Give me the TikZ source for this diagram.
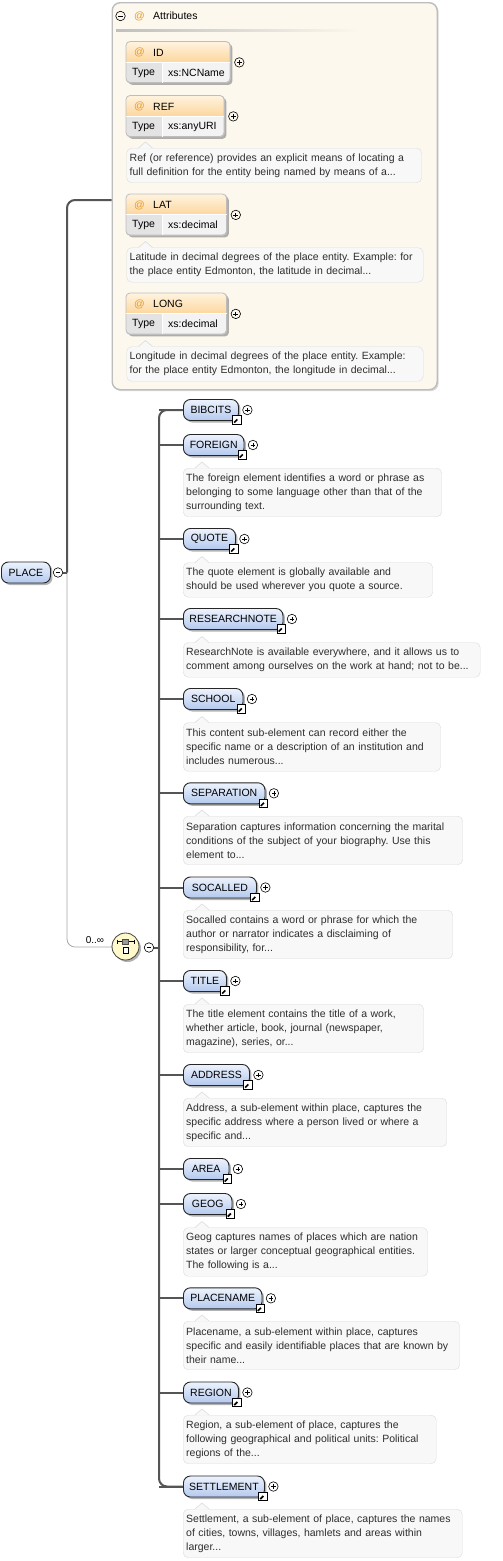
\documentclass[tikz,border=0pt]{standalone}
\usepackage{fontspec}
\setmainfont{Liberation Sans}
\frenchspacing
\usetikzlibrary{shadows,calc}
\definecolor{trunk}{HTML}{555555}
\definecolor{thinln}{HTML}{A8A8A8}
\definecolor{descfill}{HTML}{F8F8F8}
\definecolor{descline}{HTML}{DCDCDC}
\definecolor{desctext}{HTML}{2E2E2E}
\definecolor{elemtop}{HTML}{EDF3FD}
\definecolor{elembot}{HTML}{B4C9EE}
\definecolor{attrtop}{HTML}{FFF3DF}
\definecolor{attrbot}{HTML}{FCD79F}
\definecolor{atsign}{HTML}{E89A2A}
\definecolor{attrbg}{HTML}{FDF8EE}
\definecolor{attrborder}{HTML}{BDBDBD}
\definecolor{typecell}{HTML}{E3E3E3}
\definecolor{valcell}{HTML}{F3F3F3}
\definecolor{seqfill}{HTML}{FFF9CC}
\tikzset{
 x=1pt, y=-1pt,
 txt/.style={font=\fontsize{10.5}{14}\selectfont, inner sep=0pt},
 elem/.style={draw=black!85, line width=0.9pt, rounded corners=7pt, top color=elemtop, bottom color=elembot,
   minimum height=21pt, inner sep=0pt, anchor=west, font=\fontsize{10.5}{12}\selectfont,
   drop shadow={shadow xshift=2pt, shadow yshift=-2pt, fill=black, opacity=0.3}},
 desc/.style={draw=descline, fill=descfill, rounded corners=5pt, inner xsep=3pt, inner ysep=0pt,
   align=left, text=desctext, font=\fontsize{10.5}{14}\selectfont, anchor=north west},
 plus/.style={circle, draw=black, minimum size=9.5pt, inner sep=0pt, line width=0.6pt,
   path picture={\draw[line width=0.7pt] ([xshift=-2.4pt]path picture bounding box.center) -- ([xshift=2.4pt]path picture bounding box.center)
     ([yshift=-2.4pt]path picture bounding box.center) -- ([yshift=2.4pt]path picture bounding box.center);}},
 minus/.style={circle, draw=black, minimum size=9.5pt, inner sep=0pt, line width=0.6pt,
   path picture={\draw[line width=0.7pt] ([xshift=-2.4pt]path picture bounding box.center) -- ([xshift=2.4pt]path picture bounding box.center);}},
 arrowbox/.style={draw=black, fill=white, minimum size=8.5pt, inner sep=0pt, line width=0.7pt,
   path picture={\draw[line width=1.6pt] ([shift={(-2.6pt,-2.6pt)}]path picture bounding box.center) -- ([shift={(1pt,1pt)}]path picture bounding box.center);
     \fill ([shift={(3pt,3pt)}]path picture bounding box.center) -- ([shift={(-1.8pt,3pt)}]path picture bounding box.center) -- ([shift={(3pt,-1.8pt)}]path picture bounding box.center) -- cycle;}},
 trunkline/.style={draw=trunk, line width=2pt},
 thinline/.style={draw=thinln, line width=0.8pt},
 attrbox/.style={draw=attrborder, fill=white, rounded corners=4pt, minimum height=41pt, inner sep=0pt, line width=0.8pt,
   drop shadow={shadow xshift=2pt, shadow yshift=-2pt, fill=black, opacity=0.3}},
 atsym/.style={txt, text=atsign},
}
% element: name, center y, right x, label
\newcommand\XElem[4]{%
 \pgfmathsetmacro\xw{#3-183}%
 \node[elem, minimum width=\xw pt] (#1) at (183,#2) {#4};
 \node[arrowbox] (#1-ref) at ($(#1.south east)+(-2,-1)$) {};
 \node[plus] (#1-plus) at ($(#1.east)+(8.5,0)$) {};
 \draw[trunkline] (#1.west -| trunk) -- (#1.west);
}
% description: name, left x, top y, right x, height, text
\newcommand\XDesc[6]{%
 \pgfmathsetmacro\tw{#4-#2-6}%
 \node[desc, text width=\tw pt, minimum height=#5pt] (#1) at (#2,#3) {#6};
 \fill[descfill] ($(#1.north west)+(12,0.7)$) -- ($(#1.north west)+(19,-6)$) -- ($(#1.north west)+(26,0.7)$) -- cycle;
 \draw[descline, line width=0.6pt] ($(#1.north west)+(12,0)$) -- ($(#1.north west)+(19,-6)$) -- ($(#1.north west)+(26,0)$);
}
% attribute: name, top y, right x, label, type
\newcommand\XAttr[5]{%
 \pgfmathsetmacro\aw{#3-126}%
 \node[attrbox, minimum width=\aw pt, anchor=north west] (#1) at (126,#2) {};
 \begin{scope}
  \clip[rounded corners=4pt] (126,#2) rectangle (#3,#2+41);
  \shade[top color=attrtop, bottom color=attrbot] (126,#2) rectangle (#3,#2+20.5);
  \fill[typecell] (126,#2+20.5) rectangle (162,#2+41);
  \fill[valcell] (162,#2+20.5) rectangle (#3,#2+41);
 \end{scope}
 \draw[attrborder, line width=0.8pt, rounded corners=4pt] (126,#2) rectangle (#3,#2+41);
 \draw[white, line width=0.6pt] (126,#2+20.5) -- (#3,#2+20.5) (162,#2+20.5) -- (162,#2+41);
 \node[atsym] (#1-at) at (139.5,#2+11) {@};
 \node[txt, anchor=west] (#1-name) at (153,#2+11) {#4};
 \node[txt, anchor=west] (#1-tl) at (132,#2+31) {Type};
 \node[txt, anchor=west] (#1-tv) at (168,#2+31) {#5};
 \node[plus] (#1-plus) at ($(#1.east)+(8.5,0)$) {};
}
\begin{document}
\begin{tikzpicture}
\useasboundingbox (0,0) rectangle (503,1561);
\fill[white] (0,0) rectangle (503,1561);
\coordinate (trunk) at (159,0);
\coordinate (attrjoin) at (111.5,200);

% attributes container
\node[draw=attrborder, fill=attrbg, rounded corners=8pt, line width=1.4pt, minimum width=325pt, minimum height=387pt,
  inner sep=0pt, anchor=north west, drop shadow={shadow xshift=1.5pt, shadow yshift=-1.5pt, fill=black, opacity=0.15}] (attrs) at (111.5,2) {};
\node[minus] (attrs-minus) at (120.5,16) {};
\node[atsym] (attrs-at) at (139.5,16) {@};
\node[txt, anchor=west] (attrs-title) at (153,16) {Attributes};
\shade[left color=black!25, right color=attrbg] (116,29.5) rectangle (360,31);

\XAttr{id}{41.5}{230}{ID}{xs:NCName}
\XAttr{ref}{95.5}{224}{REF}{xs:anyURI}
\XDesc{refd}{126.5}{148}{421.5}{34.5}{Ref (or reference) provides an explicit means of locating a\\full definition for the entity being named by means of a...}
\XAttr{lat}{194}{226.5}{LAT}{xs:decimal}
\XDesc{latd}{126.5}{247.5}{423}{34.5}{Latitude in decimal degrees of the place entity. Example: for\\the place entity Edmonton, the latitude in decimal...}
\XAttr{long}{293}{226.5}{LONG}{xs:decimal}
\XDesc{longd}{126.5}{346.5}{423}{34.5}{Longitude in decimal degrees of the place entity. Example:\\for the place entity Edmonton, the longitude in decimal...}

% root
\node[elem, minimum width=49pt] (place) at (1,572.5) {PLACE};
\node[minus] (place-minus) at (58,572.5) {};
\coordinate (placejoin) at (67,572.5);
\draw[thinline, rounded corners=8pt] (placejoin) -- (67,947) -- (112,947);
\draw[trunkline] (place-minus.east) -- (placejoin);
\draw[trunkline, rounded corners=8pt] (placejoin) -- (67,200) -- (attrjoin);
\node[txt, font=\fontsize{10}{12}\selectfont] (card) at (95,940.5) {0..∞};

% sequence compositor
\node[circle, draw=black!75, line width=0.8pt, fill=seqfill, minimum size=27pt, inner sep=0pt,
  drop shadow={shadow xshift=2pt, shadow yshift=-2pt, fill=black, opacity=0.3}] (seq) at (125.5,946.5) {};
\draw[black, line width=0.7pt] (117,941.5) -- (134,941.5) (117,939.5) -- (117,943.5) (134,939.5) -- (134,943.5);
\draw[black!70, fill=black!40, line width=0.5pt] (122.7,939) rectangle (128.3,944);
\draw[black, fill=white, line width=0.6pt] (122.8,947) rectangle (128.4,953);
\node[minus] (seq-minus) at (149,947.5) {};
\draw[trunkline] (seq-minus.east) -- (159,947.5);

% trunk
\XElem{bibcits}{410}{238}{BIBCITS}
\XElem{settlement}{1486.5}{264}{SETTLEMENT}
\draw[trunkline, rounded corners=8pt] (bibcits.west) -- (159,410) -- (159,1486.5) -- (settlement.west);

\XElem{foreign}{445}{243.5}{FOREIGN}
\XDesc{foreignd}{183}{468}{441.5}{48.5}{The foreign element identifies a word or phrase as\\belonging to some language other than that of the\\surrounding text.}
\XElem{quote}{539}{235}{QUOTE}
\XDesc{quoted}{183}{562.5}{432.5}{34.5}{The quote element is globally available and\\should be used wherever you quote a source.}
\XElem{researchnote}{619}{282.5}{RESEARCHNOTE}
\XDesc{researchnoted}{183}{642.5}{480}{34.5}{ResearchNote is available everywhere, and it allows us to\\comment among ourselves on the work at hand; not to be...}
\XElem{school}{699}{242.5}{SCHOOL}
\XDesc{schoold}{183}{722.5}{440.5}{48.5}{This content sub-element can record either the\\specific name or a description of an institution and\\includes numerous...}
\XElem{separation}{793.3}{264.5}{SEPARATION}
\XDesc{separationd}{183}{816}{462.5}{48.5}{Separation captures information concerning the marital\\conditions of the subject of your biography. Use this\\element to...}
\XElem{socalled}{887.5}{256}{SOCALLED}
\XDesc{socalledd}{183}{910}{452.5}{48.5}{Socalled contains a word or phrase for which the\\author or narrator indicates a disclaiming of\\responsibility, for...}
\XElem{title}{981}{226}{TITLE}
\XDesc{titled}{183}{1004}{423.5}{48.5}{The title element contains the title of a work,\\whether article, book, journal (newspaper,\\magazine), series, or...}
\XElem{address}{1075}{249}{ADDRESS}
\XDesc{addressd}{183}{1098}{446.5}{48.5}{Address, a sub-element within place, captures the\\specific address where a person lived or where a\\specific and...}
\XElem{area}{1169}{228.5}{AREA}
\XElem{geog}{1204}{231.5}{GEOG}
\XDesc{geogd}{183}{1227.5}{427.5}{48.5}{Geog captures names of places which are nation\\states or larger conceptual geographical entities.\\The following is a...}
\XElem{placename}{1298.3}{261.5}{PLACENAME}
\XDesc{placenamed}{183}{1321}{459.5}{48.5}{Placename, a sub-element within place, captures\\specific and easily identifiable places that are known by\\their name...}
\XElem{region}{1392.5}{238}{REGION}
\XDesc{regiond}{183}{1415}{436}{48.5}{Region, a sub-element of place, captures the\\following geographical and political units: Political\\regions of the...}
\XDesc{settlementd}{183}{1509}{462}{48.5}{Settlement, a sub-element of place, captures the names\\of cities, towns, villages, hamlets and areas within\\larger...}
\end{tikzpicture}
\end{document}
